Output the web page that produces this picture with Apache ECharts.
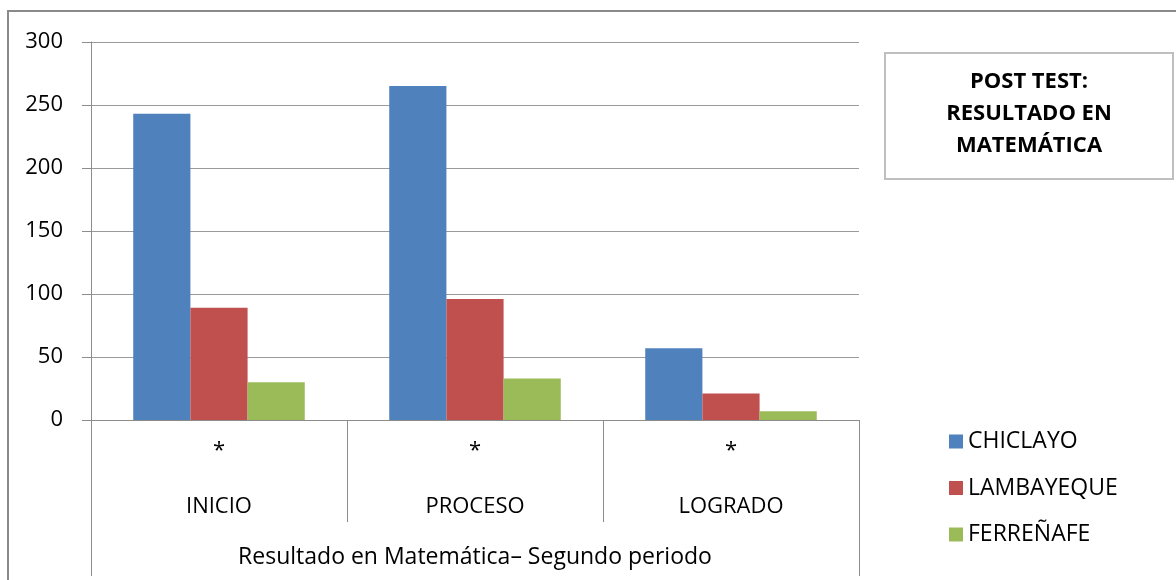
<!DOCTYPE html>
<html>
<head>
<meta charset="utf-8">
<script src="https://cdn.jsdelivr.net/npm/echarts@6/dist/echarts.min.js"></script>
<style>
html,body{margin:0;padding:0;background:#fff;}
#frame{position:absolute;left:7px;top:10px;width:1200px;height:600px;border-left:2px solid #8a8a8a;border-top:2px solid #8a8a8a;}
#chart{position:absolute;left:0;top:0;width:1176px;height:580px;}
</style>
</head>
<body>
<div id="frame"></div>
<div id="chart"></div>
<script>
const categories = ['INICIO', 'PROCESO', 'LOGRADO'];
const subLabel = '*';
const groupLabel = 'Resultado en Matemática– Segundo periodo';
const seriesNames = ['CHICLAYO', 'LAMBAYEQUE', 'FERREÑAFE'];
const chiclayo = [243, 265, 57];
const lambayeque = [89, 96, 21];
const ferrenafe = [30, 33, 7];
const colors = ['#4F81BD', '#C0504D', '#9BBB59'];
const titleText = 'POST TEST:\nRESULTADO EN\nMATEMÁTICA';

const FONT = '"Open Sans", sans-serif';
const chart = echarts.init(document.getElementById('chart'), null, {renderer: 'canvas'});
const values = [chiclayo, lambayeque, ferrenafe];

chart.setOption({
  animation: false,
  graphic: [{
    type: 'group', left: 884, top: 52,
    children: [{
      type: 'rect', shape: {x: 0, y: 0, width: 288, height: 126},
      style: {fill: '#fff', stroke: '#bfbfbf', lineWidth: 2}
    }, {
      type: 'text', x: 144, y: 61,
      style: {text: titleText, align: 'center', verticalAlign: 'middle',
        font: 'bold 22px ' + FONT, lineHeight: 32, fill: '#000'}
    }]
  }],
  legend: {
    orient: 'vertical', left: 944, top: 425,
    itemWidth: 14, itemHeight: 14, itemGap: 23.5, icon: 'rect',
    textStyle: {fontFamily: FONT, fontSize: 23, color: '#000'},
    data: seriesNames
  },
  grid: {left: 91, right: 317, top: 42, bottom: 160},
  xAxis: [{
    type: 'category', data: categories,
    axisLine: {show: true, lineStyle: {color: '#8c8c8c', width: 1}},
    axisTick: {show: true, length: 102, lineStyle: {color: '#8c8c8c'}},
    axisLabel: {
      margin: 17, fontFamily: FONT, fontSize: 22, color: '#000', lineHeight: 28,
      formatter: v => subLabel + '\n\n' + v
    }
  }, {
    type: 'category', data: [groupLabel], position: 'bottom',
    axisLine: {show: false},
    axisTick: {show: true, length: 156, lineStyle: {color: '#8c8c8c'}},
    axisLabel: {margin: 125, fontFamily: FONT, fontSize: 23, color: '#000', lineHeight: 24}
  }],
  yAxis: {
    type: 'value', min: 0, max: 300, interval: 50,
    axisLine: {show: true, lineStyle: {color: '#8c8c8c'}},
    axisTick: {show: true, length: 9, lineStyle: {color: '#8c8c8c'}},
    splitLine: {lineStyle: {color: '#9a9a9a', width: 1}},
    axisLabel: {margin: 28, fontFamily: FONT, fontSize: 22, color: '#000'}
  },
  series: seriesNames.map((n, i) => ({
    name: n, type: 'bar', xAxisIndex: 0, data: values[i],
    barGap: '0%', barCategoryGap: '33%',
    itemStyle: {color: colors[i]}
  }))
});
</script>
</body>
</html>
